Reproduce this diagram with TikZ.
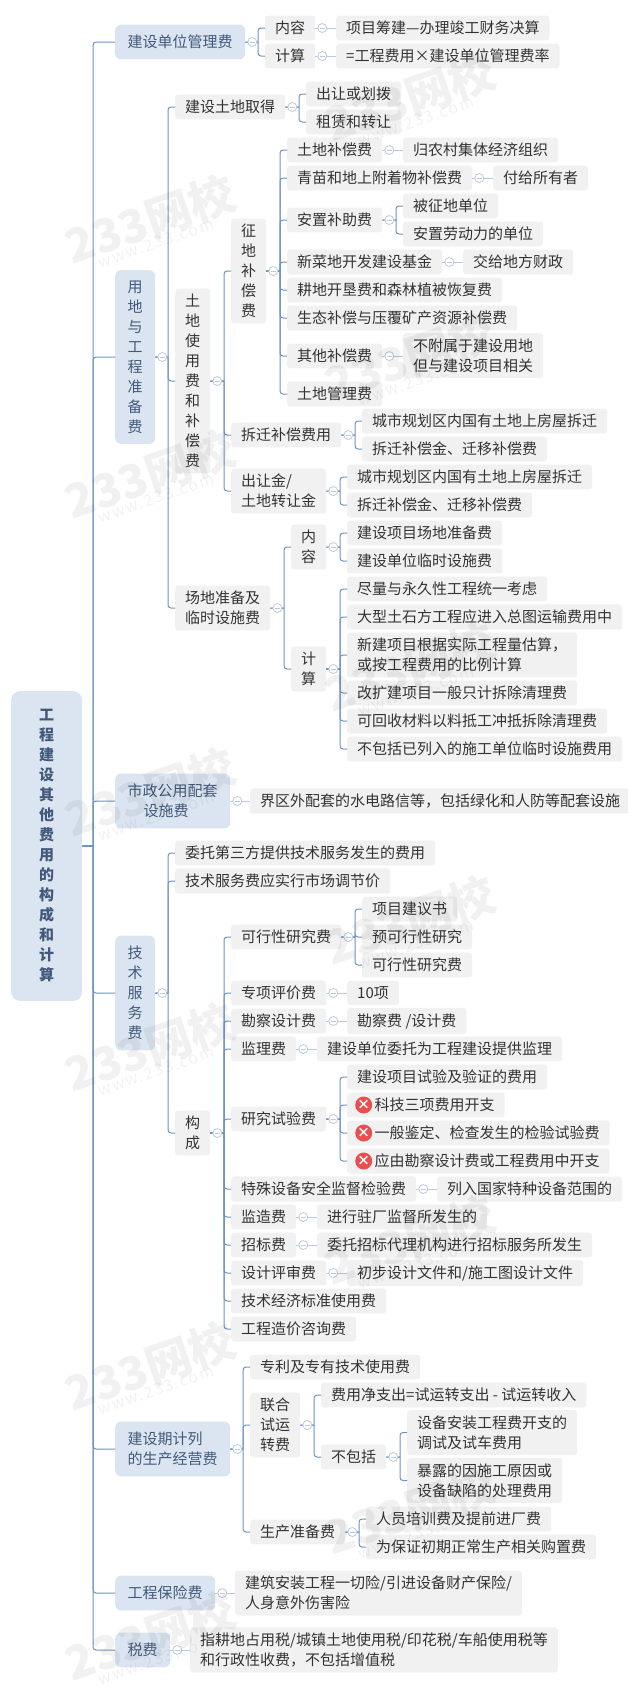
\documentclass[tikz,border=0pt]{standalone}
\usepackage{fontspec}
\setmainfont{Noto Sans CJK SC}
\usepackage{tikz}
\usetikzlibrary{positioning, calc}
\definecolor{boxgray}{HTML}{F1F1F1}
\definecolor{boxblue}{HTML}{DBE5F1}
\definecolor{inkblue}{HTML}{43597A}
\definecolor{inkgray}{HTML}{333333}
\definecolor{wire}{HTML}{6F93BF}
\definecolor{wirepale}{HTML}{BCCADF}
\definecolor{alert}{HTML}{E8504F}
\tikzset{
    leaf/.style={rectangle, fill=boxgray, text=inkgray, rounded corners=3pt, anchor=west, align=left, inner xsep=10pt, inner ysep=5.5pt, font=\fontsize{15}{20}\selectfont},
    upleaf/.style={leaf, align=center},
    topic/.style={rectangle, fill=boxblue, text=inkblue, rounded corners=6pt, anchor=west, align=left, inner xsep=12.5pt, inner ysep=10.5pt, font=\fontsize{15}{20}\selectfont},
    uptopic/.style={topic, align=center},
    rootbox/.style={rectangle, fill=boxblue, text=inkblue, rounded corners=9pt, anchor=west, align=center, inner xsep=28pt, inner ysep=18.5pt, font=\fontsize{15}{20}\selectfont\bfseries},
    badge/.style={circle, fill=alert, text=white, minimum size=17pt, inner sep=0pt, font=\fontsize{13}{13}\selectfont\bfseries},
    fold/.style={circle, draw=wirepale, fill=white, line width=0.8pt, minimum size=9pt, inner sep=0pt, path picture={\draw[wirepale, line width=0.8pt] ($(path picture bounding box.west)+(2,0)$) -- ($(path picture bounding box.east)+(-2,0)$);}},
    stub/.style={draw=wirepale, line width=1pt},
    elbow/.style={draw=wire, line width=1pt, rounded corners=3pt, to path={(\tikztotarget.west) -- ++(-#1,0) coordinate (tk) -- (tk |- \tikztostart.east) (\tikztostart.east) -- (tk |- \tikztostart.east)}},
    elbow/.default=7,
    wmark/.style={text=black, opacity=0.055, rotate=19, font=\fontsize{46}{46}\selectfont\bfseries},
    wmarksub/.style={text=black, opacity=0.05, rotate=19, font=\fontsize{16}{16}\selectfont\addfontfeature{LetterSpace=10}},
}

\begin{document}
\begin{tikzpicture}[x=1pt, y=-1pt]
  \useasboundingbox (0,0) rectangle (628,1689);

  \node [rootbox] (root) at (11,846) {工\\程\\建\\设\\其\\他\\费\\用\\的\\构\\成\\和\\计\\算};

  \node [topic] (mgmt) at (115,42) {建设单位管理费};
  \node [leaf] (mgmtin) at (265,28) {内容};
  \node [leaf] (mgmtcalc) at (265,56) {计算};
  \node [leaf] (mgmtinx) at (336,28) {项目筹建—办理竣工财务决算};
  \node [leaf] (mgmtcalcx) at (336,56) {=工程费用×建设单位管理费率};

  \node [uptopic] (land) at (115,357) {用\\地\\与\\工\\程\\准\\备\\费};
  \node [leaf] (get) at (175,107) {建设土地取得};
  \node [leaf] (get1) at (306,94) {出让或划拨};
  \node [leaf] (get2) at (306,122) {租赁和转让};
  \node [upleaf] (use) at (175,381) {土\\地\\使\\用\\费\\和\\补\\偿\\费};
  \node [upleaf] (levy) at (231,271) {征\\地\\补\\偿\\费};
  \node [leaf] (soil) at (287,150) {土地补偿费};
  \node [leaf] (soilx) at (403,150) {归农村集体经济组织};
  \node [leaf] (crop) at (287,178) {青苗和地上附着物补偿费};
  \node [leaf] (cropx) at (493,178) {付给所有者};
  \node [leaf] (settle) at (287,220) {安置补助费};
  \node [leaf] (settle1) at (403,206) {被征地单位};
  \node [leaf] (settle2) at (403,234) {安置劳动力的单位};
  \node [leaf] (veg) at (287,262) {新菜地开发建设基金};
  \node [leaf] (vegx) at (463,262) {交给地方财政};
  \node [leaf] (farm) at (287,290) {耕地开垦费和森林植被恢复费};
  \node [leaf] (eco) at (287,318) {生态补偿与压覆矿产资源补偿费};
  \node [leaf] (other) at (287,356) {其他补偿费};
  \node [leaf] (otherx) at (403,355.5) {不附属于建设用地\\但与建设项目相关};
  \node [leaf] (admin) at (287,394) {土地管理费};
  \node [leaf] (move) at (231,435) {拆迁补偿费用};
  \node [leaf] (move1) at (362,421) {城市规划区内国有土地上房屋拆迁};
  \node [leaf] (move2) at (362,449) {拆迁补偿金、迁移补偿费};
  \node [leaf] (grant) at (231,491) {出让金/\\土地转让金};
  \node [leaf] (grant1) at (347,477) {城市规划区内国有土地上房屋拆迁};
  \node [leaf] (grant2) at (347,505) {拆迁补偿金、迁移补偿费};
  \node [leaf] (site) at (175,608) {场地准备及\\临时设施费};
  \node [upleaf] (sitein) at (291,547) {内\\容};
  \node [leaf] (sitein1) at (347,533) {建设项目场地准备费};
  \node [leaf] (sitein2) at (347,561) {建设单位临时设施费};
  \node [upleaf] (sitecalc) at (291,669) {计\\算};
  \node [leaf] (calc1) at (347,589) {尽量与永久性工程统一考虑};
  \node [leaf] (calc2) at (347,617) {大型土石方工程应进入总图运输费用中};
  \node [leaf] (calc3) at (347,655) {新建项目根据实际工程量估算，\\或按工程费用的比例计算};
  \node [leaf] (calc4) at (347,693) {改扩建项目一般只计拆除清理费};
  \node [leaf] (calc5) at (347,721) {可回收材料以料抵工冲抵拆除清理费};
  \node [leaf] (calc6) at (347,749) {不包括已列入的施工单位临时设施费用};

  \node [topic, align=center] (city) at (115,801) {市政公用配套\\设施费\hspace*{13pt}};
  \node [leaf] (cityx) at (250,801) {界区外配套的水电路信等，包括绿化和人防等配套设施};

  \node [uptopic] (tech) at (115,993) {技\\术\\服\\务\\费};
  \node [leaf] (tech1) at (175,853) {委托第三方提供技术服务发生的费用};
  \node [leaf] (tech2) at (175,881) {技术服务费应实行市场调节价};
  \node [upleaf] (form) at (175,1133) {构\\成};
  \node [leaf] (study) at (231,937) {可行性研究费};
  \node [leaf] (study1) at (362,909) {项目建议书};
  \node [leaf] (study2) at (362,937) {预可行性研究};
  \node [leaf] (study3) at (362,965) {可行性研究费};
  \node [leaf] (assess) at (231,993) {专项评价费};
  \node [leaf] (assessx) at (347,993) {10项};
  \node [leaf] (survey) at (231,1021) {勘察设计费};
  \node [leaf] (surveyx) at (347,1021) {勘察费 /设计费};
  \node [leaf] (super) at (231,1049) {监理费};
  \node [leaf] (superx) at (317,1049) {建设单位委托为工程建设提供监理};
  \node [leaf] (test) at (231,1119) {研究试验费};
  \node [leaf] (test1) at (347,1077) {建设项目试验及验证的费用};
  \node [leaf] (test2) at (347,1105) {\hspace*{17.5pt}科技三项费用开支};
  \node [leaf] (test3) at (347,1133) {\hspace*{17.5pt}一般鉴定、检查发生的检验试验费};
  \node [leaf] (test4) at (347,1161) {\hspace*{17.5pt}应由勘察设计费或工程费用中开支};
  \node [badge] (no2) [right=8pt of test2.west] {×};
  \node [badge] (no3) [right=8pt of test3.west] {×};
  \node [badge] (no4) [right=8pt of test4.west] {×};
  \node [leaf] (safety) at (231,1189) {特殊设备安全监督检验费};
  \node [leaf] (safetyx) at (437,1189) {列入国家特种设备范围的};
  \node [leaf] (make) at (231,1217) {监造费};
  \node [leaf] (makex) at (317,1217) {进行驻厂监督所发生的};
  \node [leaf] (bid) at (231,1245) {招标费};
  \node [leaf] (bidx) at (317,1245) {委托招标代理机构进行招标服务所发生};
  \node [leaf] (review) at (231,1273) {设计评审费};
  \node [leaf] (reviewx) at (347,1273) {初步设计文件和/施工图设计文件};
  \node [leaf] (norm) at (231,1301) {技术经济标准使用费};
  \node [leaf] (consult) at (231,1329) {工程造价咨询费};

  \node [topic] (prod) at (115,1449) {建设期计列\\的生产经营费};
  \node [leaf] (patent) at (250,1367) {专利及专有技术使用费};
  \node [upleaf] (trial) at (250,1425) {联合\\试运\\转费};
  \node [leaf] (net) at (321,1395) {费用净支出=试运转支出 - 试运转收入};
  \node [leaf] (excl) at (321,1457) {不包括};
  \node [leaf] (excl1) at (407,1432.5) {设备安装工程费开支的\\调试及试车费用};
  \node [leaf] (excl2) at (407,1480.5) {暴露的因施工原因或\\设备缺陷的处理费用};
  \node [leaf] (ready) at (250,1532) {生产准备费};
  \node [leaf] (ready1) at (366,1519) {人员培训费及提前进厂费};
  \node [leaf] (ready2) at (366,1547) {为保证初期正常生产相关购置费};

  \node [topic] (insure) at (115,1593) {工程保险费};
  \node [leaf] (insurex) at (235,1593) {建筑安装工程一切险/引进设备财产保险/\\人身意外伤害险};
  \node [topic] (tax) at (115,1650) {税费};
  \node [leaf] (taxx) at (190,1650) {指耕地占用税/城镇土地使用税/印花税/车船使用税等\\和行政性收费，不包括增值税};

  \draw [elbow=22] (root) to (mgmt);
  \draw [elbow=22] (root) to (land);
  \draw [elbow=22] (root) to (city);
  \draw [elbow=22] (root) to (tech);
  \draw [elbow=22] (root) to (prod);
  \draw [elbow=22] (root) to (insure);
  \draw [elbow=22] (root) to (tax);

  \draw [elbow] (mgmt) to (mgmtin);
  \draw [elbow] (mgmt) to (mgmtcalc);
  \draw [stub] (mgmtin.east) -- (mgmtinx.west);
  \draw [stub] (mgmtcalc.east) -- (mgmtcalcx.west);
  \node [fold] (fmgmt) [right=2pt of mgmt] {};
  \node [fold] (fmgmtin) [right=2pt of mgmtin] {};
  \node [fold] (fmgmtcalc) [right=2pt of mgmtcalc] {};

  \draw [elbow] (land) to (get);
  \draw [elbow] (land) to (use);
  \draw [elbow] (land) to (site);
  \node [fold] (fland) [right=2pt of land] {};
  \draw [elbow] (get) to (get1);
  \draw [elbow] (get) to (get2);
  \node [fold] (fget) [right=2pt of get] {};
  \draw [elbow] (use) to (levy);
  \draw [elbow] (use) to (move);
  \draw [elbow] (use) to (grant);
  \node [fold] (fuse) [right=2pt of use] {};
  \draw [elbow] (levy) to (soil);
  \draw [elbow] (levy) to (crop);
  \draw [elbow] (levy) to (settle);
  \draw [elbow] (levy) to (veg);
  \draw [elbow] (levy) to (farm);
  \draw [elbow] (levy) to (eco);
  \draw [elbow] (levy) to (other);
  \draw [elbow] (levy) to (admin);
  \node [fold] (flevy) [right=2pt of levy] {};
  \draw [stub] (soil.east) -- (soilx.west);
  \node [fold] (fsoil) [right=2pt of soil] {};
  \draw [stub] (crop.east) -- (cropx.west);
  \node [fold] (fcrop) [right=2pt of crop] {};
  \draw [elbow] (settle) to (settle1);
  \draw [elbow] (settle) to (settle2);
  \node [fold] (fsettle) [right=2pt of settle] {};
  \draw [stub] (veg.east) -- (vegx.west);
  \node [fold] (fveg) [right=2pt of veg] {};
  \draw [stub] (other.east) -- (otherx.west |- other.east);
  \node [fold] (fother) [right=2pt of other] {};
  \draw [elbow] (move) to (move1);
  \draw [elbow] (move) to (move2);
  \node [fold] (fmove) [right=2pt of move] {};
  \draw [elbow] (grant) to (grant1);
  \draw [elbow] (grant) to (grant2);
  \node [fold] (fgrant) [right=2pt of grant] {};
  \draw [elbow] (site) to (sitein);
  \draw [elbow] (site) to (sitecalc);
  \node [fold] (fsite) [right=2pt of site] {};
  \draw [elbow] (sitein) to (sitein1);
  \draw [elbow] (sitein) to (sitein2);
  \node [fold] (fsitein) [right=2pt of sitein] {};
  \draw [elbow] (sitecalc) to (calc1);
  \draw [elbow] (sitecalc) to (calc2);
  \draw [elbow] (sitecalc) to (calc3);
  \draw [elbow] (sitecalc) to (calc4);
  \draw [elbow] (sitecalc) to (calc5);
  \draw [elbow] (sitecalc) to (calc6);
  \node [fold] (fsitecalc) [right=2pt of sitecalc] {};

  \draw [stub] (city.east) -- (cityx.west);
  \node [fold] (fcity) [right=2pt of city] {};

  \draw [elbow] (tech) to (tech1);
  \draw [elbow] (tech) to (tech2);
  \draw [elbow] (tech) to (form);
  \node [fold] (ftech) [right=2pt of tech] {};
  \draw [elbow] (form) to (study);
  \draw [elbow] (form) to (assess);
  \draw [elbow] (form) to (survey);
  \draw [elbow] (form) to (super);
  \draw [elbow] (form) to (test);
  \draw [elbow] (form) to (safety);
  \draw [elbow] (form) to (make);
  \draw [elbow] (form) to (bid);
  \draw [elbow] (form) to (review);
  \draw [elbow] (form) to (norm);
  \draw [elbow] (form) to (consult);
  \node [fold] (fform) [right=2pt of form] {};
  \draw [elbow] (study) to (study1);
  \draw [elbow] (study) to (study2);
  \draw [elbow] (study) to (study3);
  \node [fold] (fstudy) [right=2pt of study] {};
  \draw [stub] (assess.east) -- (assessx.west);
  \node [fold] (fassess) [right=2pt of assess] {};
  \draw [stub] (survey.east) -- (surveyx.west);
  \node [fold] (fsurvey) [right=2pt of survey] {};
  \draw [stub] (super.east) -- (superx.west);
  \node [fold] (fsuper) [right=2pt of super] {};
  \draw [elbow] (test) to (test1);
  \draw [elbow] (test) to (test2);
  \draw [elbow] (test) to (test3);
  \draw [elbow] (test) to (test4);
  \node [fold] (ftest) [right=2pt of test] {};
  \draw [stub] (safety.east) -- (safetyx.west);
  \node [fold] (fsafety) [right=2pt of safety] {};
  \draw [stub] (make.east) -- (makex.west);
  \node [fold] (fmake) [right=2pt of make] {};
  \draw [stub] (bid.east) -- (bidx.west);
  \node [fold] (fbid) [right=2pt of bid] {};
  \draw [stub] (review.east) -- (reviewx.west);
  \node [fold] (freview) [right=2pt of review] {};

  \draw [elbow] (prod) to (patent);
  \draw [elbow] (prod) to (trial);
  \draw [elbow] (prod) to (ready);
  \node [fold] (fprod) [right=2pt of prod] {};
  \draw [elbow] (trial) to (net);
  \draw [elbow] (trial) to (excl);
  \node [fold] (ftrial) [right=2pt of trial] {};
  \draw [elbow] (excl) to (excl1);
  \draw [elbow] (excl) to (excl2);
  \node [fold] (fexcl) [right=2pt of excl] {};
  \draw [elbow] (ready) to (ready1);
  \draw [elbow] (ready) to (ready2);
  \node [fold] (fready) [right=2pt of ready] {};

  \draw [stub] (insure.east) -- (insurex.west);
  \node [fold] (finsure) [right=2pt of insure] {};
  \draw [stub] (tax.east) -- (taxx.west);
  \node [fold] (ftax) [right=2pt of tax] {};

  \node [wmark] (wa) at (150,219) {233网校};
  \node [wmarksub] (wasub) at (156,243) {www.233.com};
  \node [wmark] (wb) at (410,97) {233网校};
  \node [wmarksub] (wbsub) at (416,121) {www.233.com};
  \node [wmark] (wc) at (150,474) {233网校};
  \node [wmarksub] (wcsub) at (156,498) {www.233.com};
  \node [wmark] (wd) at (410,357) {233网校};
  \node [wmarksub] (wdsub) at (416,381) {www.233.com};
  \node [wmark] (we) at (150,792) {233网校};
  \node [wmarksub] (wesub) at (156,816) {www.233.com};
  \node [wmark] (wf) at (410,667) {233网校};
  \node [wmarksub] (wfsub) at (416,691) {www.233.com};
  \node [wmark] (wg) at (150,1047) {233网校};
  \node [wmarksub] (wgsub) at (156,1071) {www.233.com};
  \node [wmark] (wh) at (410,920) {233网校};
  \node [wmarksub] (whsub) at (416,944) {www.233.com};
  \node [wmark] (wi) at (150,1366) {233网校};
  \node [wmarksub] (wisub) at (156,1390) {www.233.com};
  \node [wmark] (wj) at (410,1240) {233网校};
  \node [wmarksub] (wjsub) at (416,1264) {www.233.com};
  \node [wmark] (wk) at (150,1636) {233网校};
  \node [wmarksub] (wksub) at (156,1660) {www.233.com};
  \node [wmark] (wl) at (410,1510) {233网校};
  \node [wmarksub] (wlsub) at (416,1534) {www.233.com};
\end{tikzpicture}
\end{document}
